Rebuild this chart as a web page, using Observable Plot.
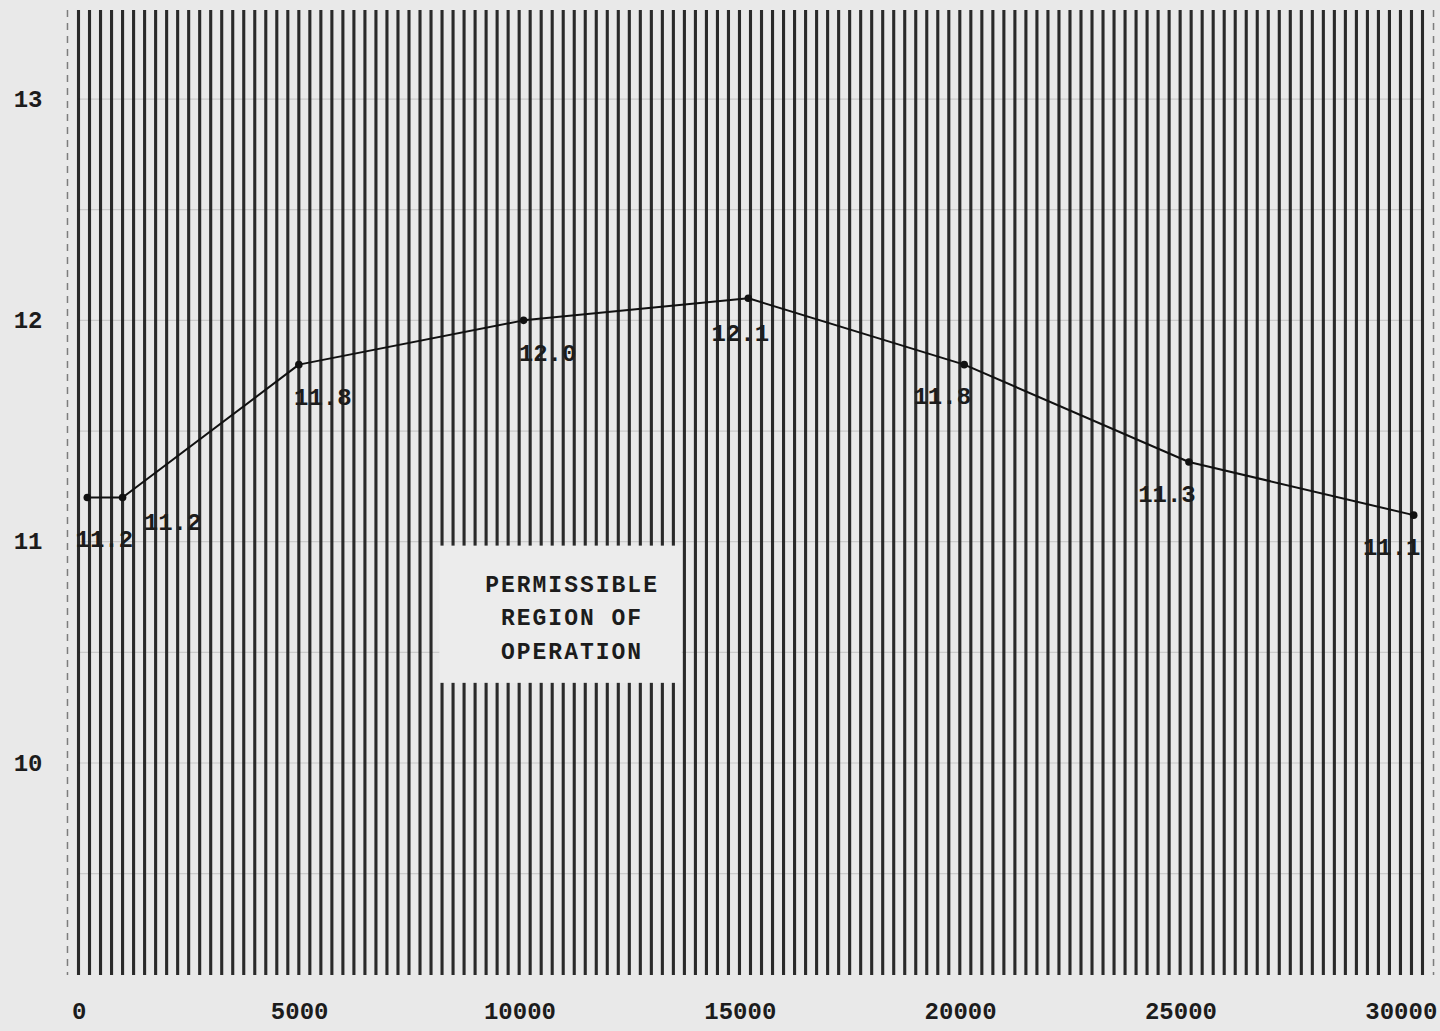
<!DOCTYPE html>
<html>
<head>
<meta charset="utf-8">
<script src="https://cdn.jsdelivr.net/npm/d3@7"></script>
<script src="https://cdn.jsdelivr.net/npm/@observablehq/plot@0.6"></script>
<style>
  html, body { margin: 0; padding: 0; background: #e9e9e9; }
  #chart svg { display: block; }
  .note text { letter-spacing: 2px; }
</style>
</head>
<body>
<div id="chart"></div>
<script>
// --- data ---
const xValues = [0, 800, 4800, 9900, 15000, 19900, 25000, 30100];
const yValues = [11.2, 11.2, 11.8, 12.0, 12.1, 11.8, 11.36, 11.12];
const pointLabels = ["11.2", "11.2", "11.8", "12.0", "12.1", "11.8", "11.3", "11.1"];
const xTicks = [0, 5000, 10000, 15000, 20000, 25000, 30000];
const yTicks = [10, 11, 12, 13];
const gridY = [9.5, 10, 10.5, 11, 11.5, 12, 12.5, 13];
const noteText = ["PERMISSIBLE", "REGION OF", "OPERATION"];
const noteAnchor = [{x: 11000, y: 10.67}];
const noteBox = [{x1: 8000, x2: 13500, y1: 10.36, y2: 10.98}];

const points = xValues.map((x, i) => ({x, y: yValues[i], label: pointLabels[i], i}));
const hatch = d3.range(-200, 30301, 250);

const font = "'Liberation Mono', 'DejaVu Sans Mono', monospace";
const ink = "#1c1c1c";

const chart = Plot.plot({
  width: 1440,
  height: 1031,
  marginLeft: 78,
  marginRight: 18,
  marginTop: 10,
  marginBottom: 56,
  style: {background: "#e9e9e9", fontFamily: font, color: ink},
  x: {domain: [-200, 30300]},
  y: {domain: [9.04, 13.4]},
  marks: [
    // vertical hatching of the permissible region
    Plot.ruleX(hatch, {x: d => d, stroke: "#2a2a2a", strokeWidth: 3.1}),
    // faint horizontal grid
    Plot.ruleY(gridY, {y: d => d, stroke: "#222", strokeOpacity: 0.15, strokeWidth: 1.2}),
    // dashed outer borders
    Plot.ruleX([-450, 30550], {x: d => d, stroke: "#333", strokeWidth: 1.5, strokeDasharray: "7,6", strokeOpacity: 0.6}),
    // label box
    Plot.rect(noteBox, {x1: "x1", x2: "x2", y1: "y1", y2: "y2", fill: "#ececec"}),
    Plot.text(noteAnchor, {x: "x", y: "y", text: () => noteText.join("\n"), fontSize: 23, fontWeight: "bold",
      lineHeight: 1.45, fill: ink, className: "note"}),
    // the limit curve
    Plot.line(points, {x: "x", y: "y", stroke: "#111", strokeWidth: 2}),
    Plot.dot(points, {x: "x", y: "y", r: 3.8, fill: "#111", stroke: "none"}),
    // value labels
    Plot.text(points.filter(d => d.i === 0), {x: "x", y: "y", text: "label", dx: 17, dy: 42, fontSize: 24, fontWeight: "bold", fill: ink}),
    Plot.text(points.filter(d => d.i === 1), {x: "x", y: "y", text: "label", dx: 50, dy: 25, fontSize: 24, fontWeight: "bold", fill: ink}),
    Plot.text(points.filter(d => d.i === 2 || d.i === 3), {x: "x", y: "y", text: "label", dx: 24, dy: 33, fontSize: 24, fontWeight: "bold", fill: ink}),
    Plot.text(points.filter(d => d.i === 4), {x: "x", y: "y", text: "label", dx: -8, dy: 35, fontSize: 24, fontWeight: "bold", fill: ink}),
    Plot.text(points.filter(d => d.i >= 5), {x: "x", y: "y", text: "label", dx: -22, dy: 32, fontSize: 24, fontWeight: "bold", fill: ink}),
    // axes
    Plot.axisX({ticks: xTicks, tickFormat: d => String(d), tickSize: 0, tickPadding: 26, dx: -8, fontSize: 24, fontWeight: "bold", label: null}),
    Plot.axisY({ticks: yTicks, tickFormat: d => String(d), tickSize: 0, tickPadding: 36, fontSize: 24, fontWeight: "bold", label: null})
  ]
});

document.getElementById("chart").append(chart);
</script>
</body>
</html>
